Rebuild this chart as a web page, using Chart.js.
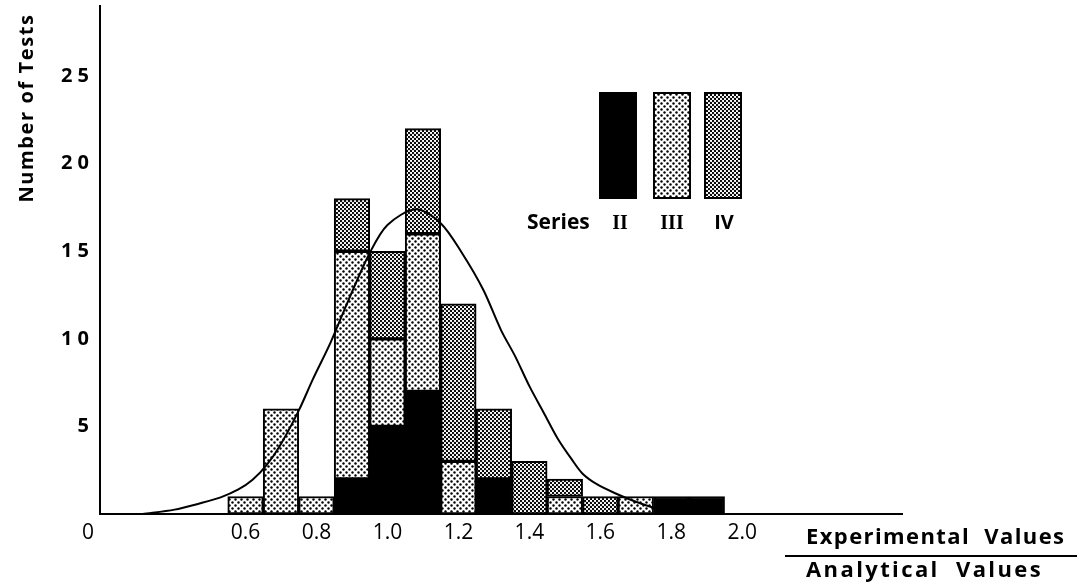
<!DOCTYPE html>
<html>
<head>
<meta charset="utf-8">
<title>Number of Tests</title>
<script src="https://cdn.jsdelivr.net/npm/chart.js@4.4.0/dist/chart.umd.min.js"></script>
<style>
    html, body { margin: 0; padding: 0; background: #fff; }
    canvas { display: block; }
</style>
</head>
<body>
<canvas id="chart" width="1077" height="588"></canvas>
<script>
// Bin centres (experimental / analytical ratio)
const bins = [0.6, 0.7, 0.8, 0.9, 1.0, 1.1, 1.2, 1.3, 1.4, 1.5, 1.6, 1.7, 1.8, 1.9];

// Number of tests per bin, per test series
const seriesII  = [0, 0, 0, 2, 5, 7, 0, 2, 0, 0, 0, 0, 1, 1];
const seriesIII = [1, 6, 1, 13, 5, 9, 3, 0, 0, 1, 0, 1, 0, 0];
const seriesIV  = [0, 0, 0, 3, 5, 6, 9, 4, 3, 1, 1, 0, 0, 0];

// Fitted distribution curve
const fitX = [0.31, 0.40, 0.47, 0.53, 0.58, 0.62, 0.66, 0.70, 0.75, 0.79, 0.84, 0.89, 0.95, 1.00, 1.08,
              1.15, 1.21, 1.27, 1.32, 1.36, 1.40, 1.44, 1.48, 1.52, 1.55, 1.59, 1.64, 1.70, 1.76, 1.84];
const fitY = [0, 0.25, 0.6, 0.95, 1.4, 1.95, 2.8, 4.0, 5.9, 7.7, 9.8, 12.2, 14.9, 16.5, 17.4,
              16.6, 14.9, 12.8, 10.5, 9.0, 7.3, 5.8, 4.3, 3.1, 2.3, 1.7, 1.2, 0.7, 0.3, 0.05];

// Axis ticks
const xTicks = [0.6, 0.8, 1.0, 1.2, 1.4, 1.6, 1.8, 2.0];
const yTicks = [5, 10, 15, 20, 25];

(function() {
    'use strict';

    const X_MIN = 0.19;

    /**
     * Dot screen fill, like the printed stipple
     */
    function makePattern(size, dots, radius) {
        const c = document.createElement('canvas');
        c.width = size;
        c.height = size;
        const g = c.getContext('2d');
        g.fillStyle = '#fff';
        g.fillRect(0, 0, size, size);
        g.fillStyle = '#000';
        dots.forEach(function(d) {
            g.beginPath();
            g.arc(d[0], d[1], radius, 0, Math.PI * 2);
            g.fill();
        });
        return g.createPattern(c, 'repeat');
    }

    const fills = {
        II: '#000',
        III: makePattern(6, [[1.5, 1.5], [4.5, 4.5]], 1.2),
        IV: makePattern(4, [[1, 1], [3, 3]], 1.15)
    };

    function toPoints(values) {
        return bins.map(function(b, i) {
            return { x: b, y: values[i] === 0 ? null : values[i] };
        });
    }

    function barSet(label, values, fill) {
        return {
            type: 'bar',
            label: label,
            data: toPoints(values),
            backgroundColor: fill,
            borderColor: '#000',
            borderWidth: 2,
            borderSkipped: false,
            barPercentage: 1,
            categoryPercentage: 1,
            stack: 'tests',
            order: 1
        };
    }

    /**
     * Hand drawn parts: origin label, axis titles and the pattern key
     */
    const decorations = {
        id: 'decorations',
        afterDraw: function(chart) {
            const ctx = chart.ctx;
            ctx.save();
            ctx.fillStyle = '#000';
            ctx.strokeStyle = '#000';

            // origin
            ctx.font = '500 21px "Open Sans"';
            ctx.textAlign = 'center';
            ctx.textBaseline = 'middle';
            ctx.fillText('0', 88, 533);

            // y title
            ctx.save();
            ctx.translate(27, 108);
            ctx.rotate(-Math.PI / 2);
            ctx.font = 'bold 20px "Open Sans"';
            ctx.letterSpacing = '1.6px';
            ctx.textAlign = 'center';
            ctx.textBaseline = 'middle';
            ctx.fillText('Number of Tests', 0, 0);
            ctx.restore();

            // x title as a fraction
            ctx.font = 'bold 22px "Open Sans"';
            ctx.textAlign = 'left';
            ctx.textBaseline = 'middle';
            ctx.letterSpacing = '1.4px';
            ctx.fillText('Experimental  Values', 806, 538);
            ctx.letterSpacing = '2.4px';
            ctx.fillText('Analytical  Values', 806, 571);
            ctx.lineWidth = 2;
            ctx.beginPath();
            ctx.moveTo(785, 556);
            ctx.lineTo(1077, 556);
            ctx.stroke();

            // key boxes
            const boxes = [[600, fills.II], [654, fills.III], [705, fills.IV]];
            boxes.forEach(function(b) {
                ctx.fillStyle = b[1];
                ctx.fillRect(b[0], 93, 36, 105);
                ctx.lineWidth = 2;
                ctx.strokeRect(b[0], 93, 36, 105);
            });

            ctx.fillStyle = '#000';
            ctx.letterSpacing = '0px';
            ctx.font = 'bold 21px "Open Sans"';
            ctx.textAlign = 'left';
            ctx.fillText('Series', 527, 223);
            ctx.textAlign = 'center';
            ctx.font = 'bold 20px "Liberation Serif"';
            ctx.fillText('II', 620, 224);
            ctx.fillText('III', 672, 224);
            ctx.font = 'bold 20px "Open Sans"';
            ctx.fillText('IV', 724, 223);

            ctx.restore();
        }
    };

    new Chart(document.getElementById('chart'), {
        data: {
            datasets: [
                barSet('Series II', seriesII, fills.II),
                barSet('Series III', seriesIII, fills.III),
                barSet('Series IV', seriesIV, fills.IV),
                {
                    type: 'line',
                    label: 'Fit',
                    data: fitX.map(function(x, i) { return { x: x, y: fitY[i] }; }),
                    borderColor: '#000',
                    borderWidth: 2,
                    pointRadius: 0,
                    fill: false,
                    tension: 0.3,
                    stack: 'fit',
                    order: 0
                }
            ]
        },
        options: {
            responsive: false,
            animation: false,
            layout: {
                padding: { top: 6, right: 175, bottom: 0, left: 0 }
            },
            plugins: {
                legend: { display: false },
                tooltip: { enabled: false }
            },
            scales: {
                x: {
                    type: 'linear',
                    stacked: true,
                    offset: false,
                    min: X_MIN,
                    max: 2.45,
                    grid: { display: false, drawTicks: false, offset: false },
                    border: { display: true, color: '#000', width: 2 },
                    afterBuildTicks: function(scale) {
                        scale.ticks = xTicks.map(function(v) { return { value: v }; });
                    },
                    afterFit: function(scale) {
                        scale.height = 74;
                        scale.paddingLeft = 0;
                        scale.paddingRight = 0;
                    },
                    ticks: {
                        color: '#000',
                        padding: 6,
                        autoSkip: false,
                        maxRotation: 0,
                        font: { family: '"Open Sans"', size: 21, weight: '500' },
                        callback: function(v) {
                            return v.toFixed(1);
                        }
                    }
                },
                y: {
                    stacked: true,
                    min: 0,
                    max: 29,
                    grid: { display: false, drawTicks: false },
                    border: { display: true, color: '#000', width: 2 },
                    afterBuildTicks: function(scale) {
                        scale.ticks = yTicks.map(function(v) { return { value: v }; });
                    },
                    afterFit: function(scale) {
                        scale.width = 100;
                        scale.paddingTop = 0;
                        scale.paddingBottom = 0;
                    },
                    ticks: {
                        color: '#000',
                        padding: 11,
                        font: { family: '"Open Sans"', size: 20, weight: 'bold' },
                        callback: function(v) {
                            return String(v).split('').join(' ');
                        }
                    }
                }
            }
        },
        plugins: [decorations]
    });
})();
</script>
</body>
</html>
